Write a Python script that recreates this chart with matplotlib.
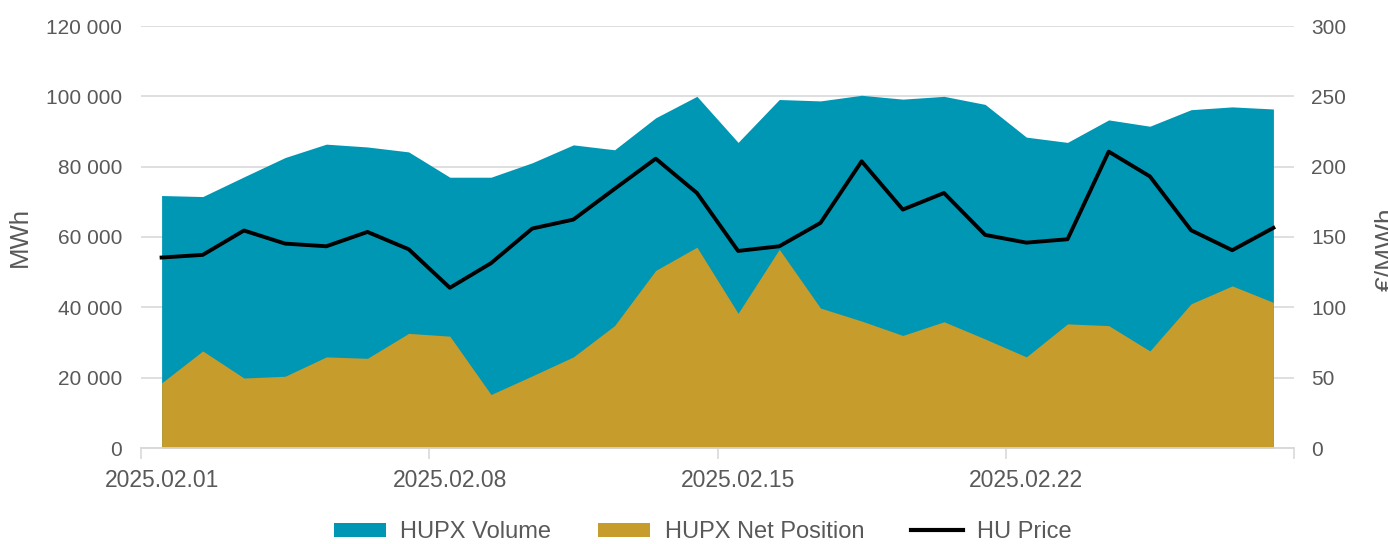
import numpy as np
import matplotlib.pyplot as plt
from matplotlib.patches import Patch
from matplotlib.lines import Line2D
from matplotlib.ticker import FuncFormatter

plt.rcParams['font.family'] = ['Liberation Sans', 'DejaVu Sans']

dates = ['2025.02.%02d' % d for d in range(1, 29)]
volume = [71800, 71500, 77100, 82600, 86400, 85600, 84200, 77000, 77000, 81100,
          86200, 84800, 93900, 100000, 86900, 99100, 98700, 100300, 99200, 100000,
          97700, 88400, 86900, 93300, 91500, 96200, 97000, 96400]
net_position = [18500, 27600, 19900, 20400, 25900, 25500, 32600, 31800, 15200, 20500,
                25900, 34800, 50500, 57100, 38300, 56500, 39800, 36100, 32000, 35900,
                31000, 25900, 35300, 34800, 27600, 41000, 46100, 41400]
hu_price = [135.4, 137.3, 154.6, 145.3, 143.4, 153.6, 141.3, 113.9, 131.4, 156.0,
            162.4, 184.2, 205.7, 181.3, 140.1, 143.4, 160.0, 203.8, 169.5, 181.3,
            151.5, 146.0, 148.4, 210.7, 193.1, 154.8, 140.6, 156.5]

teal = '#0097B5'
gold = '#C69C2D'
txt = '#595959'
grid = '#D9D9D9'

x = np.arange(len(dates))

fig = plt.figure(figsize=(13.88, 5.44), dpi=100)
ax = fig.add_axes([141 / 1388, 1 - 448 / 544, (1294 - 141) / 1388, (448 - 26) / 544])
ax2 = ax.twinx()

ax.fill_between(x, 0, volume, color=teal, linewidth=0, zorder=2)
ax.fill_between(x, 0, net_position, color=gold, linewidth=0, zorder=3)
ax2.plot(x, hu_price, color='black', linewidth=2.8, zorder=4)

ax.set_xlim(-0.5, len(dates) - 0.5)
ax.set_ylim(0, 120000)
ax2.set_ylim(0, 300)
ax.set_yticks(np.arange(0, 120001, 20000))
ax2.set_yticks(np.arange(0, 301, 50))
ax.yaxis.set_major_formatter(FuncFormatter(lambda v, p: '{:,}'.format(int(v)).replace(',', ' ')))

ax.set_xticks(x[::7])
ax.set_xticklabels([dates[i] for i in x[::7]])
ax.set_xticks(np.arange(-0.5, len(dates), 7), minor=True)
ax.tick_params(axis='x', which='major', length=0, pad=15, labelsize=16.5, labelcolor=txt)
ax.tick_params(axis='x', which='minor', length=8, color=grid, width=1.2)

ax.grid(axis='y', color=grid, linewidth=1.2, zorder=0)
ax.set_axisbelow(True)
for a in (ax, ax2):
    for s in ('left', 'right', 'top'):
        a.spines[s].set_visible(False)
    a.spines['bottom'].set_color(grid)
    a.spines['bottom'].set_linewidth(1.2)

ax.tick_params(axis='y', length=0, pad=13.5, labelsize=15, labelcolor=txt)
ax2.tick_params(axis='y', length=0, pad=12.5, labelsize=15, labelcolor=txt)
ax.set_ylabel('MWh', fontsize=18.5, color=txt, labelpad=10)
ax2.set_ylabel('€/MWh', fontsize=19, color=txt, labelpad=10)
ax2.yaxis.set_label_coords(1.07, 0.47)

handles = [Patch(facecolor=teal, label='HUPX Volume'),
           Patch(facecolor=gold, label='HUPX Net Position'),
           Line2D([0], [0], color='black', linewidth=3, label='HU Price')]
fig.legend(handles=handles, loc='center', bbox_to_anchor=(0.5065, 0.022), ncol=3,
           frameon=False, fontsize=17, labelcolor=txt, handlelength=2.2, handleheight=0.55,
           columnspacing=2.0, handletextpad=0.6, borderpad=0)

fig.savefig('out.png', dpi=100)
